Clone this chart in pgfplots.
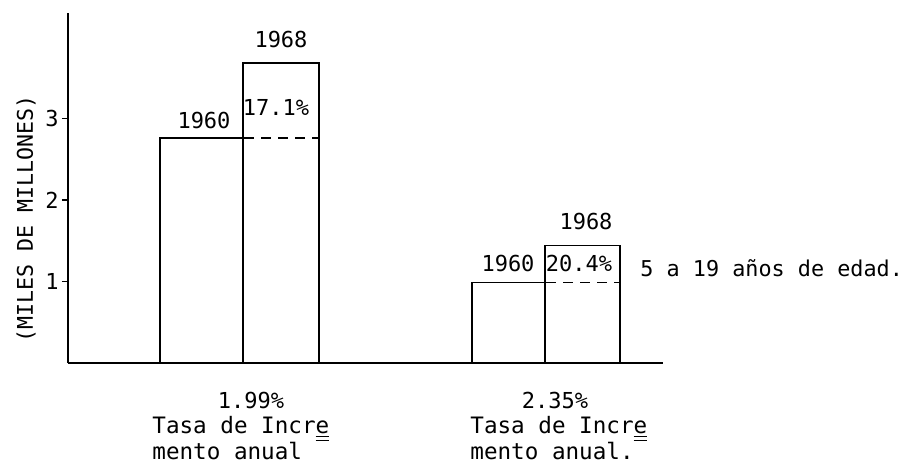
\documentclass[border=0pt]{standalone}
\usepackage{pgfplots}
\pgfplotsset{compat=1.18}
\usepackage{fontspec}
\setmainfont{DejaVu Sans Mono}
\newfontfamily\tw{DejaVu Sans Mono}
\begin{document}
\begin{tikzpicture}
\path[use as bounding box] (-34bp,-50bp) rectangle (417bp,181.5bp);
\begin{axis}[
  at={(0,0)}, anchor=south west,
  scale only axis, width=297.5bp, height=175bp,
  xmin=68, xmax=663, ymin=0, ymax=4.294,
  axis x line*=bottom, axis y line*=left,
  axis line style={-, line width=0.9pt},
  xtick=\empty, ytick={1,2,3},
  tick align=outside, major tick length=3bp,
  tick style={line width=0.6pt, black},
  yticklabel style={font=\tw\fontsize{11bp}{13bp}\selectfont, inner sep=1.5bp},
  /pgf/number format/assume math mode=true,
  clip=false,
]
% group 1
\addplot[black, line width=0.75pt] coordinates {(160,0) (160,2.76) (243,2.76) (243,0)};
\addplot[black, line width=0.75pt] coordinates {(243,0) (243,3.68) (319,3.68) (319,0)};
\addplot[black, line width=0.75pt, dash pattern=on 5bp off 3.5bp] coordinates {(244,2.76) (319,2.76)};
% group 2
\addplot[black, line width=0.75pt] coordinates {(472,0) (472,0.99) (545,0.99) (545,0)};
\addplot[black, line width=0.75pt] coordinates {(545,0) (545,1.44) (620,1.44) (620,0)};
\addplot[black, line width=0.75pt, dash pattern=on 5bp off 3.5bp] coordinates {(546,0.99) (620,0.99)};

\begin{scope}[every node/.style={font=\tw\fontsize{11bp}{13bp}\selectfont, inner sep=0pt}]
\node at (axis cs:281,3.963) {1968};
\node at (axis cs:204,2.98) {1960};
\node at (axis cs:276,3.14) {17.1\%};
\node at (axis cs:586,1.73) {1968};
\node at (axis cs:508,1.215) {1960};
\node at (axis cs:579,1.215) {20.4\%};
\node[anchor=west, font=\tw\fontsize{10.9bp}{13bp}\selectfont] at (axis cs:640,1.16) {5 a 19 años de edad.};
\node[rotate=90, font=\tw\fontsize{10.8bp}{13bp}\selectfont] at (axis cs:26,1.767) {(MILES DE MILLONES)};

\node at (axis cs:251,-0.46) {1.99\%};
\node[anchor=base west, font=\tw\fontsize{11.3bp}{13bp}\selectfont] at (axis cs:152,-0.859) {Tasa de Incr\underline{\underline{e}}};
\node[anchor=base west, font=\tw\fontsize{11.3bp}{13bp}\selectfont] at (axis cs:152,-1.19) {mento anual};
\node at (axis cs:555,-0.46) {2.35\%};
\node[anchor=base west, font=\tw\fontsize{11.3bp}{13bp}\selectfont] at (axis cs:470,-0.859) {Tasa de Incr\underline{\underline{e}}};
\node[anchor=base west, font=\tw\fontsize{11.3bp}{13bp}\selectfont] at (axis cs:470,-1.19) {mento anual.};
\end{scope}
\end{axis}
\end{tikzpicture}
\end{document}
